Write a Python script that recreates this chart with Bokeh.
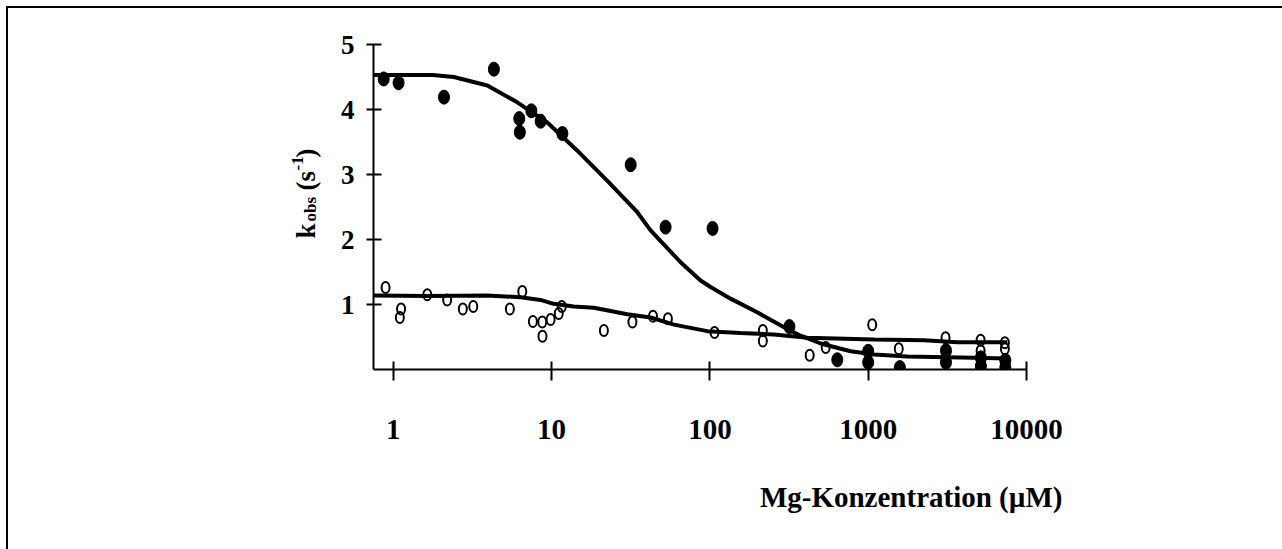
import math
from bokeh.plotting import figure
from bokeh.layouts import row
from bokeh.models import Range1d, FixedTicker, NumeralTickFormatter, Title
from bokeh.core.properties import value
from bokeh.embed import file_html
from bokeh.resources import INLINE

# ---- data ----
filled_x = [0.87, 1.08, 2.09, 4.32, 6.25, 6.3, 7.45, 8.53, 11.7, 31.6, 52.5, 104,
            318, 638, 1000, 1000, 1585, 3100, 3100, 5150, 5150, 7350, 7350]
filled_y = [4.47, 4.41, 4.19, 4.62, 3.86, 3.65, 3.98, 3.82, 3.63, 3.15, 2.19, 2.17,
            0.66, 0.15, 0.28, 0.11, 0.03, 0.29, 0.11, 0.18, 0.05, 0.14, 0.03]

open_x = [0.894, 1.12, 1.10, 1.64, 2.19, 2.75, 3.2, 5.45, 6.53, 7.62, 8.73, 8.76,
          9.86, 11.1, 11.6, 21.4, 32.4, 43.7, 54.3, 107, 216, 216, 427, 539,
          1060, 1560, 3080, 5130, 5130, 7300, 7300]
open_y = [1.26, 0.93, 0.80, 1.15, 1.07, 0.93, 0.97, 0.93, 1.20, 0.74, 0.73, 0.51,
          0.77, 0.86, 0.97, 0.60, 0.73, 0.82, 0.78, 0.57, 0.60, 0.44, 0.22, 0.34,
          0.69, 0.32, 0.49, 0.45, 0.29, 0.41, 0.32]

fit_filled_x = [0.751, 1.77, 2.41, 3.93, 6.07, 9.40, 14.5, 23.0, 34.8, 42.2, 65.3, 87.3,
                101, 135, 199, 294, 374, 501, 670, 775, 1087, 1766, 4634, 7565]
fit_filled_y = [4.53, 4.53, 4.50, 4.37, 4.11, 3.80, 3.37, 2.88, 2.42, 2.14, 1.65, 1.37,
                1.27, 1.09, 0.88, 0.65, 0.52, 0.40, 0.32, 0.28, 0.23, 0.20, 0.18, 0.17]

fit_open_x = [0.754, 1.64, 3.93, 6.37, 8.52, 10.3, 13.8, 18.5, 30.1, 42.2, 59.3, 96.3,
              156, 254, 412, 1087, 2249, 3656, 7565]
fit_open_y = [1.14, 1.13, 1.14, 1.11, 1.07, 1.01, 0.97, 0.95, 0.85, 0.80, 0.69, 0.59,
              0.56, 0.54, 0.49, 0.46, 0.45, 0.42, 0.42]

x_ticks = [1, 10, 100, 1000, 10000]
x_tick_labels = ["1", "10", "100", "1000", "10000"]
y_ticks = [1, 2, 3, 4, 5]
y_tick_labels = ["1", "2", "3", "4", "5"]

FONT = "Liberation Serif"
X0, X1 = 0.75, 10000
Y0, Y1 = 0, 5
W, H = 1282, 549
LW = 330                      # width of the strip that holds the y-axis title
FL, FR, FT, FB = 373, 1026, 44, 369   # frame edges on the page

# ---- left strip with the y-axis title (k_obs (s^-1)) ----
# its frame is aligned with the main frame vertically (page y FT..FB)
yl = figure(width=LW, height=H, x_range=Range1d(0, LW), y_range=Range1d(FB, FT),
            output_backend="svg", toolbar_location=None,
            x_axis_location=None, y_axis_location=None,
            min_border_left=0, min_border_right=0,
            min_border_top=FT, min_border_bottom=H - FB)
yl.outline_line_color = None
yl.background_fill_alpha = 0
yl.border_fill_alpha = 0
yl.xgrid.grid_line_color = None
yl.ygrid.grid_line_color = None

ylabel_parts = ["k", "obs", "(s", "-1", ")"]
ylabel_sizes = ["27px", "17px", "27px", "17px", "27px"]
ylabel_px = [305, 310, 305, 297, 305]
ylabel_py = [238, 221, 190, 170, 157]
for t, s, px, py in zip(ylabel_parts, ylabel_sizes, ylabel_px, ylabel_py):
    yl.text(x=[px], y=[py], text=[t], angle=math.pi / 2,
            text_align="left", text_baseline="alphabetic",
            text_font=value(FONT), text_font_style="bold",
            text_font_size=s, text_color="black")

# ---- main chart ----
p = figure(width=W - LW, height=H, x_axis_type="log",
           x_range=Range1d(X0, X1), y_range=Range1d(Y0, Y1),
           output_backend="svg", toolbar_location=None,
           min_border_left=FL - LW, min_border_right=W - FR,
           min_border_top=FT, min_border_bottom=H - FB)
p.outline_line_color = None
p.background_fill_color = "white"
p.border_fill_alpha = 0
p.xgrid.grid_line_color = None
p.ygrid.grid_line_color = None

xa = p.xaxis[0]
xa.ticker = FixedTicker(ticks=x_ticks, minor_ticks=[])
xa.formatter = NumeralTickFormatter(format="0")
xa.major_label_overrides = {t: l for t, l in zip(x_ticks, x_tick_labels)}
xa.axis_line_width = 2
xa.major_tick_line_width = 2
xa.major_tick_in = 8
xa.major_tick_out = 11
xa.minor_tick_line_color = None
xa.major_label_text_font = FONT
xa.major_label_text_font_style = "bold"
xa.major_label_text_font_size = "29px"
xa.major_label_standoff = 39
xa.major_label_text_color = "black"

ya = p.yaxis[0]
ya.ticker = FixedTicker(ticks=y_ticks, minor_ticks=[])
ya.major_label_overrides = {t: l for t, l in zip(y_ticks, y_tick_labels)}
ya.axis_line_width = 2
ya.major_tick_line_width = 2
ya.major_tick_in = 8
ya.major_tick_out = 7
ya.minor_tick_line_color = None
ya.major_label_text_font = FONT
ya.major_label_text_font_style = "bold"
ya.major_label_text_font_size = "27px"
ya.major_label_standoff = 12
ya.major_label_text_color = "black"

# x-axis title, right-aligned beyond the end of the axis
p.add_layout(Title(text="Mg-Konzentration (µM)", align="right", offset=-36, standoff=74,
                   text_font=FONT, text_font_style="bold", text_font_size="29px",
                   text_color="black"), "below")

# fitted curves
p.line(fit_filled_x, fit_filled_y, line_color="black", line_width=4)
p.line(fit_open_x, fit_open_y, line_color="black", line_width=4)

# data points (slightly tall ellipses as in the original)
p.ellipse(open_x, open_y, width=8, height=11, width_units="screen", height_units="screen",
          fill_color="white", fill_alpha=0, line_color="black", line_width=2)
p.ellipse(filled_x, filled_y, width=11, height=14, width_units="screen", height_units="screen",
          fill_color="black", line_color="black", line_width=1)

layout = row(yl, p, spacing=0)
layout.styles = {"box-shadow": "inset 6px 6px 0 0 #ffffff, inset 8px 8px 0 0 #000000",
                 "background-color": "#ffffff"}

open("out.html", "w").write(file_html(layout, INLINE))
